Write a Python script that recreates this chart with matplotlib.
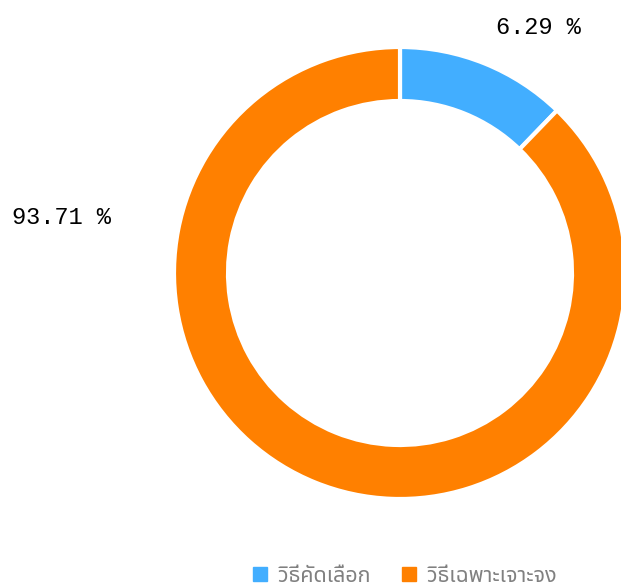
import matplotlib
matplotlib.use("Agg")
import matplotlib.pyplot as plt
from matplotlib.lines import Line2D

categories = ["วิธีคัดเลือก", "วิธีเฉพาะเจาะจง"]
values = [6.29, 93.71]
colors = ["#42AEFF", "#FF8000"]
MIN_ANGLE = 44.0  # minimum slice angle in degrees (chart option)

W, H = 621, 587
fig = plt.figure(figsize=(W / 100, H / 100), dpi=100)
ax = fig.add_axes([0, 0, 1, 1])

# apply minimum angle for small slices
total = sum(values)
angles = [v / total * 360 for v in values]
small = [max(a, MIN_ANGLE) for a in angles]
excess = sum(small) - 360
big_total = sum(a for a, o in zip(small, angles) if o >= MIN_ANGLE)
sizes = [a if o < MIN_ANGLE else a - excess * a / big_total for a, o in zip(small, angles)]

cx, cy = 400, 273
R_out, R_in = 226, 172
ax.pie(sizes, colors=colors, startangle=-90, counterclock=True,
       radius=R_out, center=(cx, cy), frame=True,
       wedgeprops=dict(width=R_out - R_in, edgecolor="white", linewidth=3))
ax.set_xlim(0, W)
ax.set_ylim(H, 0)
ax.set_aspect("equal")
ax.axis("off")

lab_font = ["Liberation Mono", "DejaVu Sans Mono"]
ax.text(538, 27, f"{values[0]:.2f} %", family=lab_font, fontsize=17,
        ha="center", va="center", color="black")
ax.text(61, 218, f"{values[1]:.2f} %", family=lab_font, fontsize=17,
        ha="center", va="center", color="black")

handles = [Line2D([], [], marker="s", linestyle="none", markersize=10,
                  markerfacecolor=c, markeredgecolor=c) for c in colors]
leg = fig.legend(handles, categories, loc="center", bbox_to_anchor=(402 / W, 1 - 576 / H),
                 ncol=2, frameon=False, handletextpad=0.25, columnspacing=1.2,
                 handlelength=1.2, borderpad=0,
                 prop=dict(family=["Noto Sans Thai", "DejaVu Sans"], size=15.5))
for t in leg.get_texts():
    t.set_color("#808080")

fig.savefig("out.png", dpi=100)
